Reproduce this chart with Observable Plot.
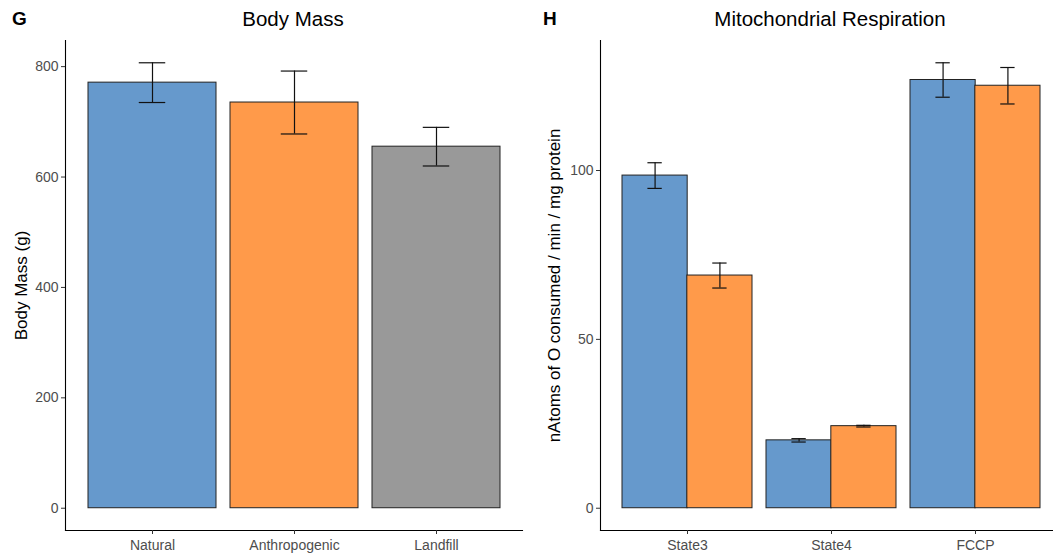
<!DOCTYPE html>
<html>
<head>
<meta charset="utf-8">
<script src="https://cdn.jsdelivr.net/npm/d3@7"></script>
<script src="https://cdn.jsdelivr.net/npm/@observablehq/plot@0.6"></script>
<style>
  html, body { margin: 0; padding: 0; background: #fff; }
  body { width: 1053px; height: 555px; overflow: hidden; position: relative;
         font-family: "Liberation Sans", Arial, Helvetica, sans-serif; }
  .panel { position: absolute; top: 0; height: 555px; overflow: hidden; }
  .head { position: relative; height: 36px; }
  .tag { position: absolute; top: 8px; font-weight: bold; font-size: 19px; color: #000; }
  .title { position: absolute; top: 7px; font-size: 20.5px; color: #000; transform: translateX(-50%); white-space: nowrap; }
  svg { display: block; }
</style>
</head>
<body>
<div class="panel" id="left" style="left:0; width:530px;">
  <div class="head"><span class="tag" style="left:12px;">G</span><span class="title" style="left:293px;">Body Mass</span></div>
</div>
<div class="panel" id="right" style="left:530px; width:523px;">
  <div class="head"><span class="tag" style="left:13px;">H</span><span class="title" style="left:300px;">Mitochondrial Respiration</span></div>
</div>
<script>
// Body mass by habitat (mean ± SE)
const massGroups = ["Natural", "Anthropogenic", "Landfill"];
const massMean = [771, 735, 655];
const massSE = [36, 57, 35];

// Mitochondrial respiration by state, two habitat groups (mean ± SE)
const respStates = ["State3", "State4", "FCCP"];
const respNatural = [98.5, 20.1, 126.8];
const respNaturalSE = [3.8, 0.5, 5.1];
const respAnthro = [68.9, 24.3, 125.1];
const respAnthroSE = [3.7, 0.25, 5.4];

const massTicks = [0, 200, 400, 600, 800];
const respTicks = [0, 50, 100];

const groupColors = {Natural: "#6699CC", Anthropogenic: "#FF9A4A", Landfill: "#999999"};

const FONT = "'Liberation Sans', Arial, Helvetica, sans-serif";
const TICK_GRAY = "#4d4d4d";
const BAR_STROKE = "#222";
const ERR_STROKE = "#111";

// y domain padded by 5% of the data extent, like ggplot's default expansion
function paddedDomain(tops) {
  const hi = d3.max(tops);
  return [-0.05 * hi, hi * 1.05];
}

function axesAndFrame(ticks, yLabel, labelDx) {
  return [
    Plot.frame({anchor: "left", stroke: "#000", strokeWidth: 1.1}),
    Plot.frame({anchor: "bottom", stroke: "#000", strokeWidth: 1.1}),
    Plot.axisY({ticks, tickSize: 4, tickPadding: 3, label: null, fill: TICK_GRAY, stroke: "#333", fontSize: 14}),
    Plot.axisX({tickSize: 4, tickPadding: 6, label: null, fill: TICK_GRAY, stroke: "#333", fontSize: 14}),
    Plot.text([yLabel], {frameAnchor: "left", textAnchor: "middle", lineAnchor: "middle", rotate: -90, dx: labelDx, fontSize: 17, fill: "#000"})
  ];
}

// ---- Panel G: body mass ----
const mass = massGroups.map((g, i) => ({group: g, mean: massMean[i], lo: massMean[i] - massSE[i], hi: massMean[i] + massSE[i]}));
{
  const W = 530, mL = 65, mR = 8;
  const step = (W - mL - mR) / 3.2, bw = step * 0.9;
  const cap = 27, capInset = (bw - cap) / 2;
  const chart = Plot.plot({
    width: W, height: 519,
    marginLeft: mL, marginRight: mR, marginTop: 4, marginBottom: 25,
    style: {fontFamily: FONT, fontSize: "14px", background: "white", maxWidth: "none"},
    x: {domain: massGroups, paddingInner: 0.1, paddingOuter: 0.15, axis: null},
    y: {domain: paddedDomain(mass.map(d => d.hi)), axis: null},
    marks: [
      Plot.barY(mass, {x: "group", y: "mean", fill: d => groupColors[d.group], stroke: BAR_STROKE, strokeWidth: 1}),
      Plot.ruleX(mass, {x: "group", y1: "lo", y2: "hi", stroke: ERR_STROKE, strokeWidth: 1.2}),
      Plot.tickY(mass, {x: "group", y: "lo", insetLeft: capInset, insetRight: capInset, stroke: ERR_STROKE, strokeWidth: 1.2}),
      Plot.tickY(mass, {x: "group", y: "hi", insetLeft: capInset, insetRight: capInset, stroke: ERR_STROKE, strokeWidth: 1.2}),
      ...axesAndFrame(massTicks, "Body Mass (g)", -44)
    ]
  });
  document.getElementById("left").appendChild(chart);
}

// ---- Panel H: mitochondrial respiration, dodged by group ----
const resp = respStates.flatMap((s, i) => [
  {state: s, group: "Natural", mean: respNatural[i], lo: respNatural[i] - respNaturalSE[i], hi: respNatural[i] + respNaturalSE[i]},
  {state: s, group: "Anthropogenic", mean: respAnthro[i], lo: respAnthro[i] - respAnthroSE[i], hi: respAnthro[i] + respAnthroSE[i]}
]);
{
  const W = 531, mL = 70, mR = 0;
  const step = (W - mL - mR) / 3.2, bw = step * 0.9, half = bw / 2;
  const cap = 14;
  const nat = resp.filter(d => d.group === "Natural");
  const ant = resp.filter(d => d.group === "Anthropogenic");
  // cap insets: cap centred on each half of the band
  const natCapL = bw / 4 - cap / 2, natCapR = bw - (bw / 4 + cap / 2);
  const antCapL = 3 * bw / 4 - cap / 2, antCapR = bw - (3 * bw / 4 + cap / 2);
  const errMarks = (data, dx, capL, capR) => [
    Plot.ruleX(data, {x: "state", y1: "lo", y2: "hi", dx, stroke: ERR_STROKE, strokeWidth: 1.2}),
    Plot.tickY(data, {x: "state", y: "lo", insetLeft: capL, insetRight: capR, stroke: ERR_STROKE, strokeWidth: 1.2}),
    Plot.tickY(data, {x: "state", y: "hi", insetLeft: capL, insetRight: capR, stroke: ERR_STROKE, strokeWidth: 1.2})
  ];
  const chart = Plot.plot({
    width: W, height: 519,
    marginLeft: mL, marginRight: mR, marginTop: 4, marginBottom: 25,
    style: {fontFamily: FONT, fontSize: "14px", background: "white", maxWidth: "none"},
    x: {domain: respStates, paddingInner: 0.1, paddingOuter: 0.15, axis: null},
    y: {domain: paddedDomain(resp.map(d => d.hi)), axis: null},
    marks: [
      Plot.barY(nat, {x: "state", y: "mean", insetRight: half, fill: groupColors.Natural, stroke: BAR_STROKE, strokeWidth: 1}),
      Plot.barY(ant, {x: "state", y: "mean", insetLeft: half, fill: groupColors.Anthropogenic, stroke: BAR_STROKE, strokeWidth: 1}),
      ...errMarks(nat, -bw / 4, natCapL, natCapR),
      ...errMarks(ant, bw / 4, antCapL, antCapR),
      ...axesAndFrame(respTicks, "nAtoms of O consumed / min / mg protein", -46)
    ]
  });
  document.getElementById("right").appendChild(chart);
}
</script>
</body>
</html>
